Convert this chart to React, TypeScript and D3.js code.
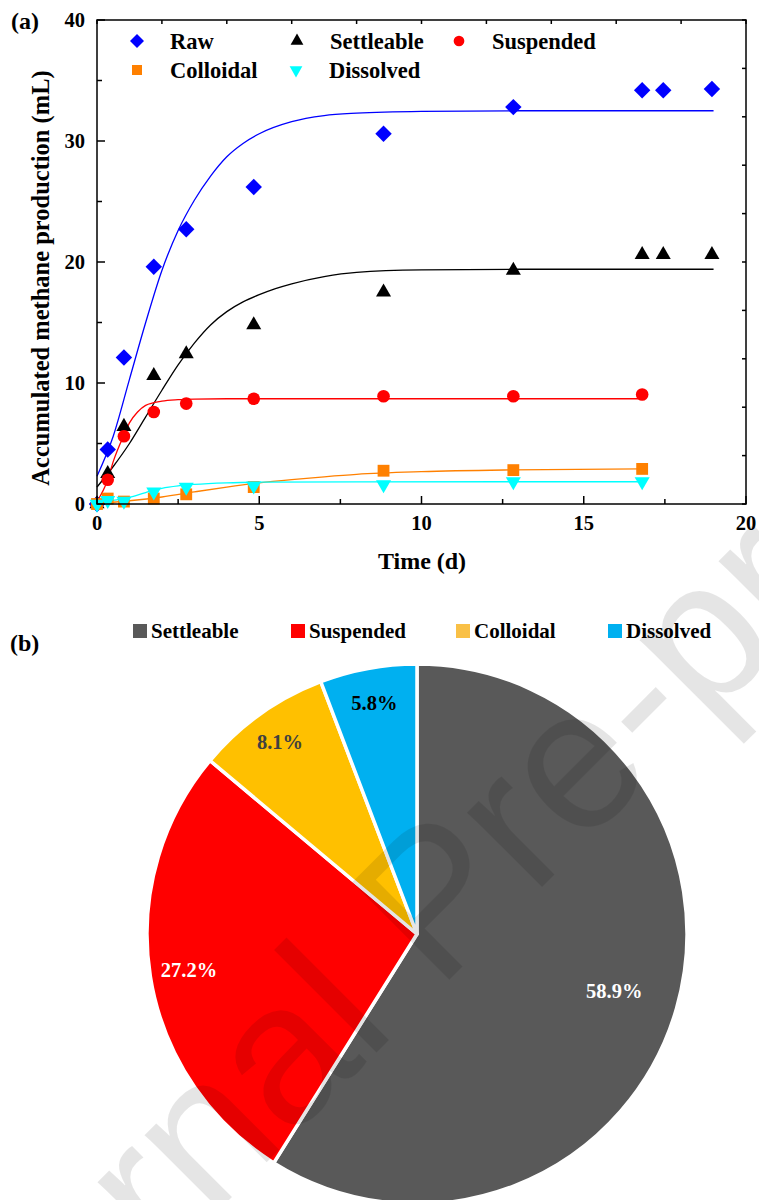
import React, { useEffect, useRef } from 'react';
import * as d3 from 'd3';

const FONT = '"Liberation Serif", "Times New Roman", serif';

// (a) measured points, time in days
const days = [0, 0.33, 0.83, 1.75, 2.75, 4.83, 8.83, 12.83, 16.8, 17.45, 18.95];
const rawVals = [0, 4.5, 12.1, 19.6, 22.7, 26.2, 30.6, 32.8, 34.2, 34.2, 34.3];
const settleableVals = [0, 2.5, 6.4, 10.6, 12.4, 14.8, 17.5, 19.3, 20.6, 20.6, 20.6];
const suspendedVals = [0, 2.0, 5.6, 7.6, 8.3, 8.7, 8.9, 8.9, 9.05, null, null];
const colloidalVals = [0, 0.45, 0.2, 0.45, 0.8, 1.4, 2.75, 2.8, 2.9, null, null];
const dissolvedVals = [0, 0.3, 0.25, 1.0, 1.4, 1.5, 1.6, 1.85, 1.85, null, null];

// (a) fitted curves
const rawFitT = [0, 0.5, 1, 1.5, 2, 2.5, 3, 3.5, 4, 4.5, 5, 6, 7, 8, 10, 13, 19];
const rawFitV = [2.3, 5.6, 10.3, 15.0, 19.3, 22.6, 25.1, 27.1, 28.7, 29.8, 30.6, 31.6, 32.1, 32.3, 32.45, 32.5, 32.5];
const settleFitT = [0, 0.5, 1, 1.5, 2, 2.5, 3, 3.5, 4, 4.5, 5, 5.5, 6, 7, 8, 10, 13, 19];
const settleFitV = [1.4, 3.1, 5.0, 7.2, 9.4, 11.5, 13.3, 14.8, 15.9, 16.7, 17.3, 17.8, 18.2, 18.8, 19.15, 19.35, 19.4, 19.4];
const suspFitT = [0, 0.33, 0.5, 0.83, 1, 1.25, 1.5, 2, 2.5, 3, 4, 16.8];
const suspFitV = [0.2, 2.0, 3.5, 5.7, 6.7, 7.6, 8.15, 8.5, 8.62, 8.67, 8.7, 8.7];
const collFitT = [0, 1, 2, 3, 4, 5, 6, 7, 8, 10, 12.83, 16.8];
const collFitV = [0.05, 0.27, 0.58, 1.0, 1.4, 1.75, 2.02, 2.25, 2.45, 2.67, 2.82, 2.9];
const dissFitT = [0, 0.5, 1, 1.5, 2, 2.5, 3, 4, 5, 8, 16.8];
const dissFitV = [0.2, 0.3, 0.55, 0.95, 1.3, 1.5, 1.62, 1.75, 1.8, 1.83, 1.84];

const seriesNames = ['Raw', 'Settleable', 'Suspended', 'Colloidal', 'Dissolved'];

// (b) distribution
const pieNames = ['Settleable', 'Suspended', 'Colloidal', 'Dissolved'];
const pieShares = [58.9, 27.2, 8.1, 5.8];

const App = () => {
  const svgRef = useRef<SVGSVGElement>(null);

  useEffect(() => {
    const svg = d3.select(svgRef.current);
    svg.selectAll('*').remove();
    svg.attr('font-family', FONT).attr('font-weight', 'bold');

    // ---------- panel (a) ----------
    const x = d3.scaleLinear().domain([0, 20]).range([97, 746]);
    const y = d3.scaleLinear().domain([0, 40]).range([504, 20]);

    const series = [
      { vals: rawVals, fitT: rawFitT, fitV: rawFitV, color: '#0000FF', shape: 'diamond' },
      { vals: settleableVals, fitT: settleFitT, fitV: settleFitV, color: '#000000', shape: 'up' },
      { vals: suspendedVals, fitT: suspFitT, fitV: suspFitV, color: '#FF0000', shape: 'circle' },
      { vals: colloidalVals, fitT: collFitT, fitV: collFitV, color: '#FF8000', shape: 'square' },
      { vals: dissolvedVals, fitT: dissFitT, fitV: dissFitV, color: '#00FFFF', shape: 'down' },
    ];

    const symbolPath = (shape: string, scale = 1) => {
      if (shape === 'diamond') return d3.symbol(d3.symbolSquare, 135 * scale * scale)();
      if (shape === 'circle') return d3.symbol(d3.symbolCircle, 125 * scale * scale)();
      if (shape === 'square') return d3.symbol(d3.symbolSquare, 140 * scale * scale)();
      return d3.symbol(d3.symbolTriangle, 98 * scale * scale)();
    };
    const symbolRot = (shape: string) => (shape === 'diamond' ? 45 : shape === 'down' ? 180 : 0);

    const line = d3.line<[number, number]>()
      .x(d => x(d[0]))
      .y(d => y(d[1]))
      .curve(d3.curveMonotoneX);

    // fitted lines
    series.forEach(s => {
      const pts = s.fitT.map((t, i) => [t, s.fitV[i]] as [number, number]);
      svg.append('path')
        .attr('d', line(pts))
        .attr('fill', 'none')
        .attr('stroke', s.color)
        .attr('stroke-width', 1.3);
    });

    // points
    series.forEach(s => {
      const pts = days
        .map((t, i) => ({ t, v: s.vals[i] }))
        .filter(d => d.v !== null);
      svg.append('g')
        .selectAll('path')
        .data(pts)
        .enter().append('path')
        .attr('d', symbolPath(s.shape))
        .attr('fill', s.color)
        .attr('transform', d => `translate(${x(d.t)},${y(d.v as number)}) rotate(${symbolRot(s.shape)})`);
    });

    // frame
    const ax = svg.append('g').attr('stroke', '#000').attr('stroke-width', 1.5);
    ax.append('rect')
      .attr('x', x(0)).attr('y', y(40))
      .attr('width', x(20) - x(0)).attr('height', y(0) - y(40))
      .attr('fill', 'none');

    // bottom ticks (major 5, minor 2.5), inward
    d3.range(0, 20.01, 2.5).forEach(v => {
      const major = v % 5 === 0;
      ax.append('line')
        .attr('x1', x(v)).attr('x2', x(v))
        .attr('y1', y(0)).attr('y2', y(0) - (major ? 8 : 5));
    });
    // top ticks every 2
    d3.range(0, 20.01, 2).forEach(v => {
      ax.append('line')
        .attr('x1', x(v)).attr('x2', x(v))
        .attr('y1', y(40)).attr('y2', y(40) + 4);
    });
    // left ticks (major 10, minor 5)
    d3.range(0, 40.01, 5).forEach(v => {
      const major = v % 10 === 0;
      ax.append('line')
        .attr('x1', x(0)).attr('x2', x(0) + (major ? 8 : 5))
        .attr('y1', y(v)).attr('y2', y(v));
    });
    // right ticks every 4
    d3.range(0, 40.01, 4).forEach(v => {
      ax.append('line')
        .attr('x1', x(20)).attr('x2', x(20) - 4)
        .attr('y1', y(v)).attr('y2', y(v));
    });

    // tick labels
    svg.append('g')
      .selectAll('text')
      .data(x.ticks(4))
      .enter().append('text')
      .attr('x', d => x(d))
      .attr('y', 530)
      .attr('text-anchor', 'middle')
      .attr('font-size', 20.5)
      .text(d => d);

    svg.append('g')
      .selectAll('text')
      .data(y.ticks(4))
      .enter().append('text')
      .attr('x', 85)
      .attr('y', d => y(d) + 7)
      .attr('text-anchor', 'end')
      .attr('font-size', 20.5)
      .text(d => d);

    // axis titles
    svg.append('text')
      .attr('x', 422).attr('y', 569)
      .attr('text-anchor', 'middle')
      .attr('font-size', 24)
      .text('Time (d)');

    svg.append('text')
      .attr('transform', 'translate(49,278) rotate(-90)')
      .attr('text-anchor', 'middle')
      .attr('font-size', 24.5)
      .text('Accumulated methane production (mL)');

    svg.append('text')
      .attr('x', 11).attr('y', 29)
      .attr('font-size', 24)
      .text('(a)');

    // legend (a)
    const legendPos = [[137, 41], [297, 41], [459, 41], [137, 70], [296, 70]];
    series.forEach((s, i) => {
      const [lx, ly] = legendPos[i];
      svg.append('path')
        .attr('d', symbolPath(s.shape, 0.85))
        .attr('fill', s.color)
        .attr('transform', `translate(${lx},${ly}) rotate(${symbolRot(s.shape)})`);
      svg.append('text')
        .attr('x', lx + 33).attr('y', ly + 8)
        .attr('font-size', 22.5)
        .text(seriesNames[i]);
    });

    // ---------- panel (b) ----------
    const cx = 417, cy = 934, R = 270;
    const pieColors = ['#595959', '#FF0000', '#FFC000', '#00B0F0'];
    const legendColors = ['#595959', '#FF0000', '#F9C046', '#00B0F0'];
    const labelColors = ['#FFFFFF', '#FFFFFF', '#404040', '#000000'];
    const labelRadius = [0.76, 0.855, 0.875, 0.87];

    const arcs = d3.pie<number>().sort(null).value(d => d)(pieShares);
    const arc = d3.arc<d3.PieArcDatum<number>>().innerRadius(0).outerRadius(R);

    const pg = svg.append('g').attr('transform', `translate(${cx},${cy})`);
    pg.selectAll('path')
      .data(arcs)
      .enter().append('path')
      .attr('d', arc)
      .attr('fill', (d, i) => pieColors[i])
      .attr('stroke', '#fff')
      .attr('stroke-width', 3.5)
      .attr('stroke-linejoin', 'round');

    pg.selectAll('text')
      .data(arcs)
      .enter().append('text')
      .attr('transform', (d, i) => {
        const a = (d.startAngle + d.endAngle) / 2;
        const r = R * labelRadius[i];
        return `translate(${Math.sin(a) * r},${-Math.cos(a) * r})`;
      })
      .attr('dy', '0.35em')
      .attr('text-anchor', 'middle')
      .attr('font-size', 20.5)
      .attr('fill', (d, i) => labelColors[i])
      .text(d => `${d.data}%`);

    // legend (b)
    const legendX = [133, 291, 456, 608];
    pieNames.forEach((n, i) => {
      svg.append('rect')
        .attr('x', legendX[i]).attr('y', 624)
        .attr('width', 14).attr('height', 14)
        .attr('fill', legendColors[i]);
      svg.append('text')
        .attr('x', legendX[i] + 18).attr('y', 638)
        .attr('font-size', 21)
        .text(n);
    });

    svg.append('text')
      .attr('x', 10).attr('y', 651)
      .attr('font-size', 24)
      .text('(b)');

    // watermark
    svg.append('text')
      .attr('transform', 'translate(481,948) rotate(-45)')
      .attr('text-anchor', 'middle')
      .attr('font-family', '"Liberation Sans", Arial, sans-serif')
      .attr('font-weight', 'normal')
      .attr('font-size', 200)
      .attr('fill', '#000')
      .attr('fill-opacity', 0.1)
      .text('Journal Pre-proof');
  }, []);

  return (
    <svg
      ref={svgRef}
      width={759}
      height={1200}
      style={{ position: 'absolute', left: 0, top: 0, background: '#fff' }}
    />
  );
};

export default App;
